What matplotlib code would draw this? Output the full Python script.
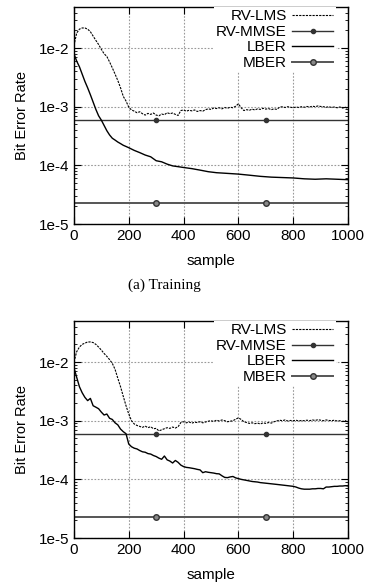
import numpy as np
import matplotlib
matplotlib.use('Agg')
import matplotlib.pyplot as plt

plt.rcParams['font.family'] = ['Liberation Sans', 'DejaVu Sans']

# sample grid for the noisy curves (every 10 samples)
samples = np.arange(0, 1001, 10)

lms_train = [
    1.1e-2, 1.8e-2, 2.1e-2, 2.2e-2, 2.2e-2, 2.1e-2, 1.9e-2, 1.6e-2, 1.35e-2, 1.15e-2,
    9.5e-3, 8.0e-3, 7.2e-3, 5.8e-3, 4.6e-3, 3.6e-3, 2.8e-3, 2.1e-3, 1.5e-3, 1.25e-3,
    9.8e-4, 8.8e-4, 8.4e-4, 7.9e-4, 8.2e-4, 7.6e-4, 7.2e-4, 7.7e-4, 7.4e-4, 7.8e-4,
    7.2e-4, 7.0e-4, 7.5e-4, 7.3e-4, 7.9e-4, 7.6e-4, 7.8e-4, 7.4e-4, 7.1e-4, 8.6e-4,
    8.8e-4, 8.4e-4, 8.7e-4, 8.5e-4, 8.8e-4, 8.3e-4, 8.6e-4, 8.4e-4, 8.9e-4, 9.2e-4,
    9.0e-4, 9.5e-4, 9.3e-4, 9.6e-4, 9.2e-4, 9.7e-4, 9.4e-4, 9.8e-4, 9.6e-4, 1.02e-3,
    1.12e-3, 9.6e-4, 8.6e-4, 8.9e-4, 8.7e-4, 9.1e-4, 8.8e-4, 9.2e-4, 9.0e-4, 9.4e-4,
    9.1e-4, 9.3e-4, 8.9e-4, 9.2e-4, 9.0e-4, 9.8e-4, 1.0e-3, 9.7e-4, 1.0e-3, 9.8e-4,
    9.6e-4, 9.9e-4, 9.7e-4, 1.0e-3, 9.8e-4, 1.01e-3, 9.9e-4, 1.02e-3, 1.0e-3, 1.03e-3,
    1.01e-3, 1.0e-3, 9.8e-4, 1.0e-3, 9.7e-4, 9.9e-4, 9.6e-4, 9.9e-4, 9.5e-4, 9.8e-4,
    9.3e-4,
]

lms_test = [
    1.0e-2, 1.5e-2, 1.8e-2, 2.0e-2, 2.1e-2, 2.2e-2, 2.2e-2, 2.15e-2, 2.0e-2, 1.8e-2,
    1.6e-2, 1.4e-2, 1.25e-2, 1.1e-2, 9.5e-3, 7.5e-3, 5.3e-3, 3.8e-3, 2.6e-3, 1.8e-3,
    1.3e-3, 1.0e-3, 8.8e-4, 8.3e-4, 8.0e-4, 7.7e-4, 8.1e-4, 7.6e-4, 7.9e-4, 7.3e-4,
    7.4e-4, 6.7e-4, 7.0e-4, 7.3e-4, 7.6e-4, 7.4e-4, 7.8e-4, 7.5e-4, 7.9e-4, 9.3e-4,
    9.6e-4, 9.2e-4, 9.5e-4, 9.1e-4, 9.4e-4, 9.3e-4, 9.6e-4, 9.2e-4, 9.5e-4, 9.8e-4,
    1.0e-3, 9.7e-4, 1.02e-3, 9.9e-4, 1.03e-3, 1.0e-3, 9.6e-4, 9.8e-4, 1.0e-3, 1.06e-3,
    1.12e-3, 1.05e-3, 9.6e-4, 9.3e-4, 9.0e-4, 9.2e-4, 8.9e-4, 9.1e-4, 8.8e-4, 9.2e-4,
    9.0e-4, 9.3e-4, 9.1e-4, 9.6e-4, 9.9e-4, 1.02e-3, 1.0e-3, 1.03e-3, 9.9e-4, 1.01e-3,
    1.0e-3, 1.02e-3, 9.9e-4, 1.01e-3, 1.0e-3, 1.02e-3, 1.0e-3, 1.03e-3, 1.01e-3, 1.04e-3,
    1.02e-3, 1.0e-3, 1.03e-3, 1.01e-3, 1.0e-3, 1.02e-3, 9.9e-4, 1.0e-3, 9.7e-4, 1.0e-3,
    9.4e-4,
]

lber_train_x = [0, 10, 20, 30, 40, 50, 60, 70, 80, 90, 100, 110, 120, 130, 140, 150,
                160, 170, 180, 190, 200, 220, 240, 260, 280, 300, 320, 340, 360, 380,
                400, 430, 460, 490, 520, 560, 600, 640, 680, 720, 760, 800, 840, 880,
                920, 960, 1000]
lber_train = [8e-3, 6e-3, 4.8e-3, 3.6e-3, 2.7e-3, 2.1e-3, 1.6e-3, 1.2e-3, 9e-4, 7e-4,
              5.9e-4, 4.8e-4, 3.9e-4, 3.3e-4, 2.9e-4, 2.7e-4, 2.5e-4, 2.35e-4, 2.2e-4,
              2.1e-4, 2.0e-4, 1.8e-4, 1.65e-4, 1.5e-4, 1.4e-4, 1.2e-4, 1.15e-4, 1.05e-4,
              9.8e-5, 9.5e-5, 9.2e-5, 8.8e-5, 8.3e-5, 7.8e-5, 7.5e-5, 7.3e-5, 7.1e-5,
              6.8e-5, 6.5e-5, 6.3e-5, 6.2e-5, 6.1e-5, 5.9e-5, 5.8e-5, 5.9e-5, 5.8e-5,
              5.7e-5]

lber_test = [
    8e-3, 5.5e-3, 3.8e-3, 3.0e-3, 2.5e-3, 2.2e-3, 2.4e-3, 1.8e-3, 1.7e-3, 1.6e-3,
    1.4e-3, 1.25e-3, 1.3e-3, 1.1e-3, 1.05e-3, 9.2e-4, 8.5e-4, 7.2e-4, 6.5e-4, 6.0e-4,
    4.0e-4, 3.6e-4, 3.4e-4, 3.3e-4, 3.1e-4, 2.95e-4, 2.9e-4, 2.75e-4, 2.7e-4, 2.55e-4,
    2.45e-4, 2.3e-4, 2.2e-4, 2.5e-4, 2.15e-4, 2.05e-4, 1.9e-4, 2.1e-4, 1.95e-4, 1.75e-4,
    1.65e-4, 1.6e-4, 1.58e-4, 1.55e-4, 1.52e-4, 1.48e-4, 1.45e-4, 1.3e-4, 1.35e-4, 1.32e-4,
    1.3e-4, 1.28e-4, 1.25e-4, 1.24e-4, 1.15e-4, 1.08e-4, 1.07e-4, 1.1e-4, 1.12e-4, 1.06e-4,
    1.03e-4, 1.0e-4, 9.8e-5, 9.6e-5, 9.4e-5, 9.2e-5, 9.1e-5, 9.0e-5, 8.8e-5, 8.7e-5,
    8.6e-5, 8.5e-5, 8.4e-5, 8.3e-5, 8.2e-5, 8.1e-5, 8.0e-5, 7.9e-5, 7.8e-5, 7.7e-5,
    7.6e-5, 7.4e-5, 7.1e-5, 6.9e-5, 6.8e-5, 6.8e-5, 6.8e-5, 6.9e-5, 6.9e-5, 7.0e-5,
    7.0e-5, 6.9e-5, 7.4e-5, 7.4e-5, 7.5e-5, 7.6e-5, 7.6e-5, 7.7e-5, 7.7e-5, 7.8e-5,
    7.7e-5,
]

# constant reference levels
flat_x = [0, 300, 700, 1000]
mmse_level = 6.0e-4
mber_level = 2.25e-5

yticks = [1e-5, 1e-4, 1e-3, 1e-2]
ytick_labels = ['1e-5', '1e-4', '1e-3', '1e-2']
xticks = [0, 200, 400, 600, 800, 1000]

FS = 11


def draw_panel(ax, lms, lber_x, lber):
    ax.plot(samples, lms, color='black', lw=0.8, ls=(0, (2, 1)), label='RV-LMS')
    ax.plot(flat_x, [mmse_level] * 4, color='#333333', lw=1.0, marker='o',
            markersize=3, markevery=[1, 2], label='RV-MMSE')
    ax.plot(lber_x, lber, color='black', lw=1.0, label='LBER')
    ax.plot(flat_x, [mber_level] * 4, color='#555555', lw=1.4, marker='o',
            markersize=4, markerfacecolor='#888888', markeredgecolor='#333333',
            markevery=[1, 2], label='MBER')

    ax.set_yscale('log')
    ax.set_xlim(0, 1000)
    ax.set_ylim(1e-5, 5e-2)
    ax.set_xticks(xticks)
    ax.set_yticks(yticks)
    ax.set_yticklabels(ytick_labels)
    ax.tick_params(which='both', direction='in', top=True, right=True, labelsize=FS)
    ax.tick_params(which='major', length=5)
    ax.tick_params(which='minor', length=2.5)
    ax.grid(True, which='major', color='#999999', ls=(0, (1.5, 1.5)), lw=0.8)
    ax.set_xlabel('sample', fontsize=FS, labelpad=8)
    ax.set_ylabel('Bit Error Rate', fontsize=FS - 0.5, labelpad=7)
    for s in ax.spines.values():
        s.set_linewidth(1.0)

    leg = ax.legend(loc='upper right', bbox_to_anchor=(0.955, 1.0), fontsize=FS,
                    markerfirst=False, frameon=True, fancybox=False, framealpha=1,
                    edgecolor='none', handlelength=2.7, labelspacing=0.1,
                    borderaxespad=0.0, borderpad=0.15, handletextpad=0.35)
    leg.get_frame().set_linewidth(0)
    leg._legend_box.align = 'right'


fig = plt.figure(figsize=(3.66, 5.88), dpi=100)
ax1 = fig.add_axes([0.202, 0.619, 0.749, 0.369])
ax2 = fig.add_axes([0.202, 0.085, 0.749, 0.369])

draw_panel(ax1, lms_train, lber_train_x, lber_train)
draw_panel(ax2, lms_test, samples, lber_test)

fig.text(0.45, 0.515, '(a) Training', ha='center', va='center',
         family='Liberation Serif', fontsize=11)

fig.savefig('out.png', dpi=100)
